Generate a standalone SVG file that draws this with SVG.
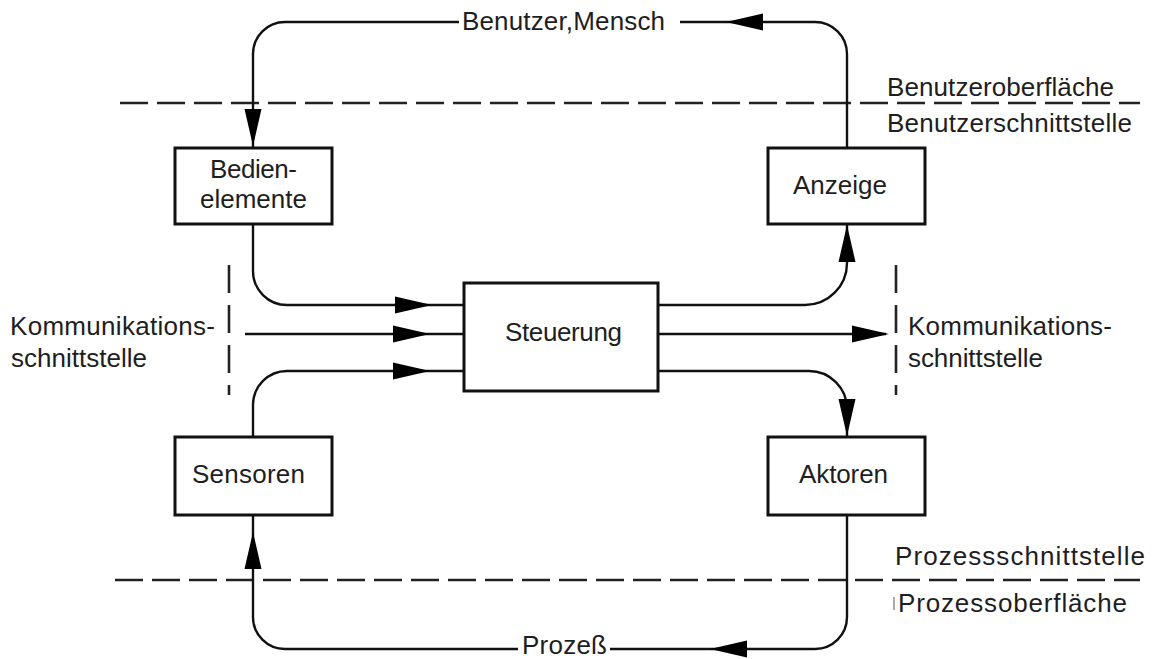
<svg xmlns="http://www.w3.org/2000/svg" xmlns:xlink="http://www.w3.org/1999/xlink" width="1155" height="659" viewBox="0 0 1155 659">
  <style>
    .box { fill: #ffffff; stroke: #111; stroke-width: 3; }
    .lbl { font-family: "Liberation Sans", Arial, sans-serif; font-size: 26px; fill: #1e1e1e; }
    .wire { fill: none; stroke: #111; stroke-width: 2.4; }
    .dash { fill: none; stroke: #222; stroke-width: 2.6; stroke-dasharray: 28 9; }
    .vdash { fill: none; stroke: #222; stroke-width: 2.6; stroke-dasharray: 28 12; }
  </style>
  <defs>
    <!-- arrowhead pointing right, tip at the origin -->
    <path id="ah" d="M0,0 L-37,-8.5 L-37,8.5 Z" fill="#000"/>
  </defs>
  <rect width="1155" height="659" fill="#ffffff"/>

  <!-- boundary lines -->
  <g id="boundaries">
    <line class="dash" x1="120" y1="103" x2="1140" y2="103"/>
    <line class="dash" x1="115" y1="580" x2="1140" y2="580"/>
    <line class="vdash" x1="229" y1="265" x2="229" y2="395"/>
    <line class="vdash" x1="896" y1="265" x2="896" y2="395"/>
    <text class="lbl" x="887" y="96" textLength="227" lengthAdjust="spacing">Benutzeroberfläche</text>
    <text class="lbl" x="887" y="132" textLength="245" lengthAdjust="spacing">Benutzerschnittstelle</text>
    <text class="lbl" x="10" y="335" textLength="205" lengthAdjust="spacing">Kommunikations-</text>
    <text class="lbl" x="11" y="367" textLength="136" lengthAdjust="spacing">schnittstelle</text>
    <text class="lbl" x="908" y="335" textLength="204" lengthAdjust="spacing">Kommunikations-</text>
    <text class="lbl" x="908" y="367" textLength="135" lengthAdjust="spacing">schnittstelle</text>
    <text class="lbl" x="895" y="565" textLength="250" lengthAdjust="spacing">Prozessschnittstelle</text>
    <line x1="894" y1="597" x2="894" y2="610" stroke="#555" stroke-width="1"/>
    <text class="lbl" x="898" y="612" textLength="229" lengthAdjust="spacing">Prozessoberfläche</text>
  </g>

  <!-- connectors -->
  <g id="connectors">
    <!-- user loop -->
    <path class="wire" d="M847,148 V54 A32,32 0 0 0 815,22 H680"/>
    <path class="wire" d="M459,22 H285 A32,32 0 0 0 253,54 V147"/>
    <text class="lbl" x="462" y="30" textLength="203" lengthAdjust="spacing">Benutzer,Mensch</text>
    <use xlink:href="#ah" transform="translate(726,22) rotate(180)"/>
    <use xlink:href="#ah" transform="translate(253,146) rotate(90)"/>

    <!-- inputs into control -->
    <path class="wire" d="M253,224 V271 A34,34 0 0 0 287,305 H464"/>
    <line class="wire" x1="245" y1="334" x2="464" y2="334"/>
    <path class="wire" d="M253,437 V405 A34,34 0 0 1 287,371 H464"/>
    <use xlink:href="#ah" transform="translate(432,305)"/>
    <use xlink:href="#ah" transform="translate(430,334)"/>
    <use xlink:href="#ah" transform="translate(430,371)"/>

    <!-- outputs of control -->
    <path class="wire" d="M658,305 H805 A42,42 0 0 0 847,263 V224"/>
    <line class="wire" x1="658" y1="334" x2="886" y2="334"/>
    <path class="wire" d="M658,371 H809 A38,38 0 0 1 847,409 V437"/>
    <use xlink:href="#ah" transform="translate(847,225) rotate(-90)"/>
    <use xlink:href="#ah" transform="translate(889,334)"/>
    <use xlink:href="#ah" transform="translate(847,436) rotate(90)"/>

    <!-- process loop -->
    <path class="wire" d="M847,515 V617 A32,32 0 0 1 815,649 H610"/>
    <path class="wire" d="M518,649 H285 A32,32 0 0 1 253,617 V515"/>
    <text class="lbl" x="522" y="654" textLength="85" lengthAdjust="spacing">Prozeß</text>
    <use xlink:href="#ah" transform="translate(710,649) rotate(180)"/>
    <use xlink:href="#ah" transform="translate(253,532) rotate(-90)"/>
  </g>

  <g id="bedienelemente">
    <rect class="box" x="175" y="148" width="157" height="76"/>
    <text class="lbl" x="210" y="178" textLength="87" lengthAdjust="spacing">Bedien-</text>
    <text class="lbl" x="200" y="208" textLength="107" lengthAdjust="spacing">elemente</text>
  </g>
  <g id="anzeige">
    <rect class="box" x="768" y="148" width="157" height="76"/>
    <text class="lbl" x="793" y="194" textLength="94" lengthAdjust="spacing">Anzeige</text>
  </g>
  <g id="steuerung">
    <rect class="box" x="464" y="283" width="194" height="108"/>
    <text class="lbl" x="505" y="341" textLength="117" lengthAdjust="spacing">Steuerung</text>
  </g>
  <g id="sensoren">
    <rect class="box" x="175" y="437" width="157" height="78"/>
    <text class="lbl" x="192" y="483" textLength="113" lengthAdjust="spacing">Sensoren</text>
  </g>
  <g id="aktoren">
    <rect class="box" x="768" y="437" width="157" height="78"/>
    <text class="lbl" x="799" y="483" textLength="89" lengthAdjust="spacing">Aktoren</text>
  </g>
</svg>
